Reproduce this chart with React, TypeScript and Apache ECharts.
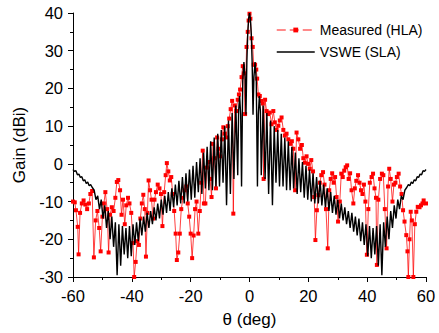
import React, { useEffect, useRef } from "react";
import * as echarts from "echarts";

// Measured (HLA): [theta (deg), gain (dBi)]
const measured: number[][] = [
  [-60, -10], [-59.4, -10.2], [-59.0, -12.3], [-58.4, -16.7], [-58.1, -24], [-57.6, -13],
  [-57.0, -10.5], [-56.4, -9.7], [-55.8, -10.8], [-55.2, -12], [-54.6, -10.5], [-54.1, -8],
  [-53.5, -7.2], [-52.9, -24.8], [-52.3, -15], [-51.7, -12.5], [-51.1, -17], [-50.6, -23.2],
  [-50.0, -14], [-49.5, -10.5], [-49.0, -7.5], [-48.4, -12], [-47.9, -23.5], [-47.4, -13.5],
  [-46.8, -11.5], [-46.2, -12.5], [-45.6, -9], [-45.1, -4.8], [-44.6, -4.3], [-44.0, -7],
  [-43.5, -13.5], [-43.0, -9.5], [-42.4, -16], [-41.9, -11], [-41.3, -9], [-40.8, -10.5],
  [-40.2, -13], [-39.6, -21], [-39.2, -30], [-38.7, -26], [-38.2, -20.5], [-37.6, -21.5],
  [-37.1, -14.5], [-36.6, -10.5], [-36.1, -8.2], [-35.6, -12], [-35.2, -24.6], [-34.7, -13],
  [-34.3, -4.4], [-33.8, -7], [-33.3, -9.5], [-32.8, -14.5], [-32.3, -9.5], [-31.8, -7.5],
  [-31.2, -5.5], [-30.6, -6.5], [-30.1, -8], [-29.6, -16.5], [-29.0, -7.5], [-28.5, -3],
  [-28.1, 0.2], [-27.6, -2], [-27.1, -4.4], [-26.6, -3.5], [-26.1, -8], [-25.6, -12.5],
  [-25.1, -18.5], [-24.7, -25.5], [-24.2, -23.5], [-23.7, -18.5], [-23.2, -12], [-22.6, -9],
  [-22.1, -7], [-21.5, -6], [-21.0, -10.5], [-20.5, -14], [-20.0, -18.5], [-19.5, -25],
  [-19.0, -19], [-18.5, -12], [-18.0, -10], [-17.4, -18.5], [-16.9, -12.5], [-16.4, -5],
  [-15.9, 3.5], [-15.5, -10.5], [-15.0, -10.5], [-14.5, -1], [-14.0, 0.5], [-13.4, -4],
  [-12.9, -8.8], [-12.4, 5.3], [-11.9, 1.5], [-11.4, -6.5], [-11.0, 7], [-10.5, 4],
  [-10.0, 2], [-9.4, 6.5], [-8.9, 9.7], [-8.4, 8], [-7.9, 7], [-7.4, 10],
  [-6.9, 12], [-6.4, 14.5], [-5.9, 16.7], [-5.5, -13.2], [-5.0, 15.5], [-4.5, 14],
  [-4.0, 17], [-3.6, 18.4], [-3.2, 19.7], [-2.7, 23], [-2.3, 25.9], [-1.9, 24],
  [-1.5, 13.2], [-1.0, 31], [-0.6, 35], [-0.3, 38], [0.0, 39.8], [0.3, 38.5],
  [0.7, 33.3], [1.1, 31], [1.4, 26.3], [1.9, 26.3], [2.3, 25], [2.6, 22.6],
  [3.0, 18.4], [3.5, 18], [4.0, 16.7], [4.5, 16], [4.8, -4], [5.3, 17],
  [5.8, 14], [6.3, 13.2], [6.9, 13.6], [7.5, 10.5], [8.1, 14], [8.6, 11],
  [9.2, 9], [9.8, 10.1], [10.3, 11.5], [10.9, 12.3], [11.5, 9], [12.0, 7.5],
  [12.6, 8], [13.2, 6.5], [13.8, 5.3], [14.4, 6], [14.9, 4], [15.5, -7],
  [16.0, 8.3], [16.6, 6.5], [17.2, 4], [17.8, 5], [18.3, 1.5], [18.8, 0.3],
  [19.4, 2], [19.9, 0], [20.5, -1.3], [21.0, 1], [21.6, -2], [22.0, -8.8],
  [22.4, -20.2], [22.9, -12.3], [23.4, -8.3], [23.9, -5], [24.4, -3], [25.0, -2.2],
  [25.5, -5.5], [26.0, -12], [26.6, -22.4], [27.1, -7], [27.6, -4], [28.1, -2.5],
  [28.6, -5], [29.1, -3.5], [29.6, -8.8], [30.1, -15.3], [30.7, -10], [31.2, -2.6],
  [31.7, -3.5], [32.2, -1.8], [32.7, -0.9], [33.2, -0.4], [33.7, -4], [34.2, -2.5],
  [34.7, -7], [35.3, -10.5], [35.8, -6.5], [36.3, -4.5], [36.9, -3], [37.4, -5],
  [37.9, -7], [38.4, -8], [38.9, -5.5], [39.4, -10], [39.9, -24.1], [40.4, -12],
  [40.9, -5], [41.5, -3.5], [42.0, -2.6], [42.5, -6.5], [43.0, -9], [43.3, -26.8],
  [43.8, -9.5], [44.4, -4], [45.0, -2.6], [45.5, -3], [46.0, -12], [46.6, -22.4],
  [47.1, -6], [47.5, -1.3], [48.0, -4], [48.6, -10], [49.1, -5.5], [49.6, -5],
  [50.1, -3.5], [50.7, -2.6], [51.2, -6], [51.7, -8], [52.2, -12.3], [52.7, -15.3],
  [53.3, -18.9], [53.7, -23.2], [54.0, -30], [54.4, -20], [54.8, -12.7], [55.2, -15],
  [55.7, -30], [56.2, -16], [56.7, -12.7], [57.2, -11.4], [57.8, -11.5], [58.3, -11],
  [58.8, -10.5], [59.2, -9.7], [60, -10.5],
];

// VSWE (SLA): [theta (deg), gain (dBi)]
const vswe: number[][] = [
  [-60, -1.5], [-59.5, -2.0], [-59, -1.8], [-58.5, -2.9], [-58, -2.7], [-57.5, -3.6], [-57, -3.4],
  [-56.5, -4.5], [-56, -4.2], [-55.5, -5.2], [-55, -4.8], [-54.5, -5.8], [-54, -5.5], [-53.5, -6.2],
  [-52.8, -7], [-52.2, -9.5], [-51.6, -8.5], [-51.0, -12], [-50.4, -9.5], [-49.8, -14.5],
  [-49.2, -11], [-48.6, -17], [-48.0, -12.5], [-47.4, -20], [-46.8, -14], [-46.2, -22],
  [-45.6, -15.5], [-45.0, -29.5], [-44.4, -16], [-43.8, -27], [-43.2, -16.5], [-42.6, -24],
  [-42.0, -17], [-41.4, -25], [-40.8, -16.5], [-40.2, -24.5], [-39.6, -16], [-39.0, -21.5],
  [-38.4, -15.5], [-37.8, -20.5], [-37.2, -14.5], [-36.6, -19], [-36.0, -14], [-35.4, -18],
  [-34.8, -13], [-34.2, -17], [-33.6, -12.5], [-33.0, -16], [-32.4, -11.5], [-31.8, -15],
  [-31.2, -10.5], [-30.6, -14.5], [-30.0, -9.5], [-29.4, -13.5], [-28.8, -8.5], [-28.2, -13],
  [-27.6, -7.5], [-27.0, -12.5], [-26.4, -6.5], [-25.8, -11.5], [-25.2, -5.5], [-24.6, -11],
  [-24.0, -4.5], [-23.4, -10.5], [-22.8, -3.5], [-22.2, -10.5], [-21.6, -2.5], [-21.0, -10],
  [-20.4, -1.5], [-19.8, -9.5], [-19.2, -0.5], [-18.6, -9], [-18.0, 0.5], [-17.4, -7.5],
  [-16.8, 1.5], [-16.2, -8], [-15.6, 3], [-15.0, -6.5], [-14.4, 4.5], [-13.8, -7],
  [-13.2, 6], [-12.6, -7], [-12.0, 7], [-11.4, -6], [-10.8, 8], [-10.2, -6],
  [-9.6, 9], [-9.0, -5], [-8.4, 10], [-7.8, -11], [-7.15, 11.5], [-6.5, -8],
  [-5.9, 13.5], [-5.3, -4], [-4.65, 15.5], [-4.0, -3], [-3.7, 14], [-3.35, 18],
  [-3.0, 13], [-2.7, -6], [-2.3, 22], [-1.9, 27], [-1.5, 23], [-1.2, 13],
  [-0.9, 27], [-0.6, 34.5], [-0.3, 38.5], [0, 40], [0.3, 38.5], [0.6, 34.5],
  [0.9, 27], [1.2, 13], [1.5, 23], [1.9, 27], [2.3, 22], [2.7, -6],
  [3.0, 13], [3.35, 18], [3.7, 14], [4.0, -3], [4.65, 15.5], [5.3, -4],
  [5.9, 13.5], [6.5, -8], [7.15, 11.5], [7.8, -11], [8.4, 10], [9.0, -5],
  [9.6, 9], [10.2, -6], [10.8, 8], [11.4, -6], [12.0, 7], [12.6, -7],
  [13.2, 6], [13.8, -7], [14.4, 4.5], [15.0, -6.5], [15.6, 3], [16.2, -8],
  [16.8, 1.5], [17.4, -7.5], [18.0, 0.5], [18.6, -9], [19.2, -0.5], [19.8, -9.5],
  [20.4, -1.5], [21.0, -10], [21.6, -2.5], [22.2, -10.5], [22.8, -3.5], [23.4, -10.5],
  [24.0, -4.5], [24.6, -11], [25.2, -5.5], [25.8, -11.5], [26.4, -6.5], [27.0, -12.5],
  [27.6, -7.5], [28.2, -13], [28.8, -8.5], [29.4, -13.5], [30.0, -9.5], [30.6, -14.5],
  [31.2, -10.5], [31.8, -15], [32.4, -11.5], [33.0, -16], [33.6, -12.5], [34.2, -17],
  [34.8, -13], [35.4, -18], [36.0, -14], [36.6, -19], [37.2, -14.5], [37.8, -20.5],
  [38.4, -15.5], [39.0, -21.5], [39.6, -16], [40.2, -24.5], [40.8, -16.5], [41.4, -25],
  [42.0, -17], [42.6, -24], [43.2, -16.5], [43.8, -27], [44.4, -16], [45.0, -29.5],
  [45.6, -15.5], [46.2, -22], [46.8, -14], [47.4, -20], [48.0, -12.5], [48.6, -17],
  [49.2, -11], [49.8, -14.5], [50.4, -9.5], [51.0, -12], [51.6, -8.5], [52.2, -9.5],
  [52.8, -7], [53.5, -6.2], [54, -5.5], [54.5, -5.8], [55, -4.8], [55.5, -5.2],
  [56, -4.2], [56.5, -4.5], [57, -3.4], [57.5, -3.6], [58, -2.7], [58.5, -2.9],
  [59, -1.8], [59.5, -2.0], [60, -1.5],
];

const seriesNames = ["Measured (HLA)", "VSWE (SLA)"];
const xTicks = { min: -60, max: 60, interval: 20 };
const yTicks = { min: -30, max: 40, interval: 10 };

const FONT = "'Liberation Sans', Arial, Helvetica, sans-serif";

export default function App() {
  const ref = useRef<HTMLDivElement>(null);
  useEffect(() => {
    if (!ref.current) return;
    const chart = echarts.init(ref.current, undefined, { renderer: "svg" });
    const axisCommon = {
      axisLine: { show: true, onZero: false, lineStyle: { color: "#000", width: 1 } },
      axisTick: { show: true, inside: false, length: 5, lineStyle: { color: "#000", width: 1 } },
      minorTick: { show: true, splitNumber: 2, length: 3, lineStyle: { color: "#000", width: 1 } },
      splitLine: { show: false },
      nameTextStyle: { color: "#000", fontSize: 17, fontFamily: FONT },
    };
    chart.setOption({
      animation: false,
      backgroundColor: "#fff",
      grid: { left: 73, right: 13, top: 13, bottom: 54, containLabel: false },
      legend: {
        orient: "vertical",
        left: 271,
        top: 18,
        itemWidth: 38,
        itemHeight: 6,
        itemGap: 8,
        textStyle: { color: "#000", fontSize: 14, fontFamily: FONT },
        data: [
          {
            name: seriesNames[0],
            lineStyle: { type: [9, 4], width: 1.5, color: "rgba(255,60,60,0.8)" },
          },
          { name: seriesNames[1], itemStyle: { opacity: 0 }, lineStyle: { width: 1.5 } },
        ],
      },
      xAxis: {
        type: "value",
        ...xTicks,
        ...axisCommon,
        name: "θ (deg)",
        nameLocation: "middle",
        nameGap: 34,
        axisLabel: { color: "#000", fontSize: 16.5, fontFamily: FONT, margin: 10 },
      },
      yAxis: {
        type: "value",
        ...yTicks,
        ...axisCommon,
        name: "Gain (dBi)",
        nameLocation: "middle",
        nameGap: 34,
        axisLabel: { color: "#000", fontSize: 16.5, fontFamily: FONT, margin: 10 },
      },
      series: [
        {
          name: seriesNames[0],
          type: "line",
          data: measured,
          symbol: "rect",
          symbolSize: 4,
          showSymbol: true,
          itemStyle: { color: "#ff0000" },
          lineStyle: { color: "rgba(255,0,0,0.75)", width: 1 },
          z: 2,
        },
        {
          name: seriesNames[1],
          type: "line",
          data: vswe,
          symbol: "none",
          itemStyle: { color: "#000" },
          lineStyle: { color: "#000", width: 1.4 },
          z: 3,
        },
      ],
    });
    return () => chart.dispose();
  }, []);
  return (
    <div
      ref={ref}
      style={{ position: "fixed", left: 0, top: 0, width: 439, height: 333 }}
    />
  );
}
